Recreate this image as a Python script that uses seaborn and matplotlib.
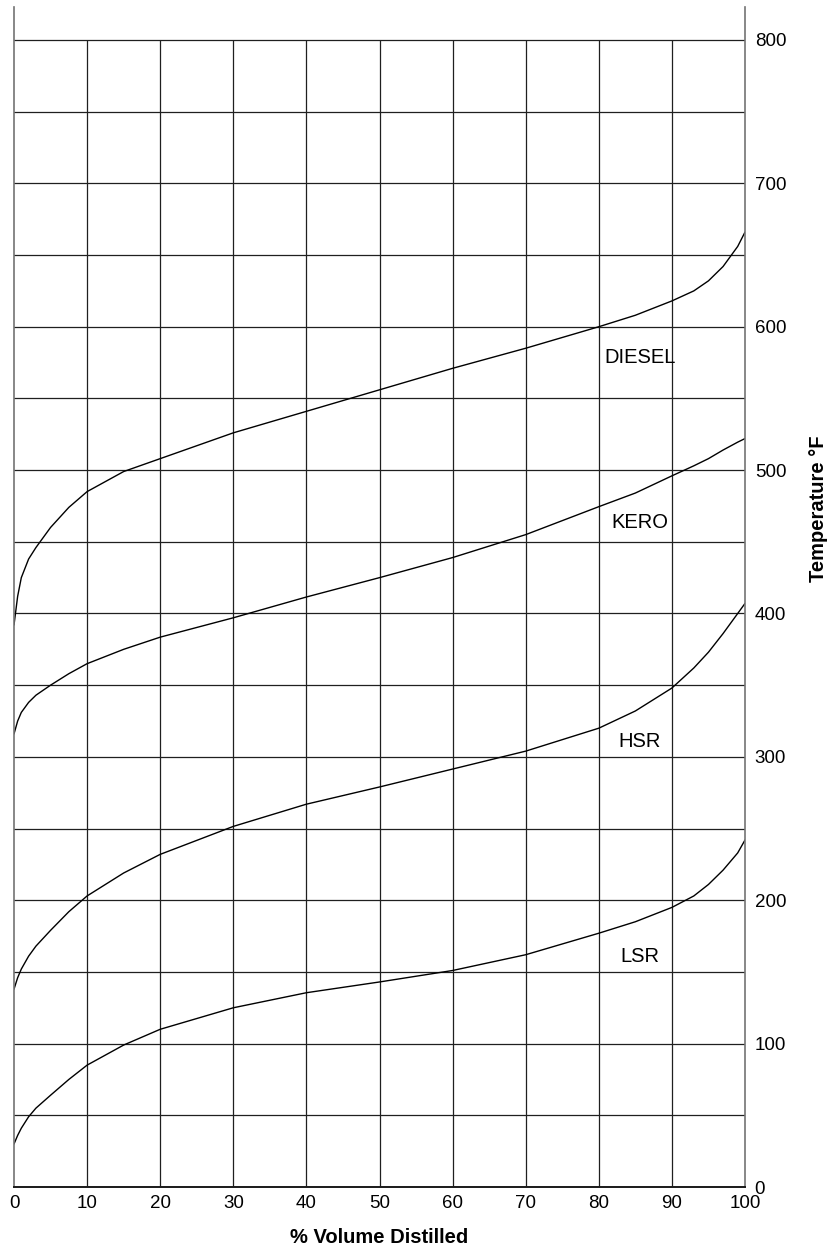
import numpy as np
import pandas as pd
import matplotlib
matplotlib.use('Agg')
import matplotlib.pyplot as plt
import seaborn as sns

# ── data ──────────────────────────────────────────────────────────────────────
pct_distilled = [0, 0.5, 1, 2, 3, 5, 7.5, 10, 15, 20, 30, 40, 50, 60, 70,
                 80, 85, 90, 93, 95, 97, 99, 100]

diesel = [392, 412, 425, 438, 446, 460, 474, 485, 499, 508, 526, 541, 556,
          571, 585, 600, 608, 618, 625, 632, 642, 656, 666]
kero = [316, 325, 331, 338, 343, 350, 358, 365, 375, 383.5, 397, 411.5, 425,
        439, 455, 474.5, 484, 496, 503, 508, 514, 519.5, 522]
hsr = [138, 146, 152, 161, 168, 179, 192, 203, 219, 232, 251.5, 267, 279,
       291.5, 304, 320, 332, 348, 362, 373, 386, 400, 407]
lsr = [30, 36, 41, 49, 55, 64, 75, 85, 99, 110, 125, 135.5, 143, 151, 162,
       177, 185, 195, 203, 211, 221, 233, 242]

series_names = ['DIESEL', 'KERO', 'HSR', 'LSR']
series_values = [diesel, kero, hsr, lsr]
label_y = [574.5, 459.5, 307, 157]   # baseline of the in-plot labels
label_x = 85.6

x_ticks = list(range(0, 101, 10))
y_ticks = list(range(0, 801, 100))
y_top_grid = 800

# ── plot ──────────────────────────────────────────────────────────────────────
sns.set_theme(style='white')
plt.rcParams['font.family'] = ['Liberation Sans', 'DejaVu Sans']

fig = plt.figure(figsize=(8.3, 12.5), dpi=100)
ax = fig.add_axes([14 / 830, 63 / 1250, 731 / 830, 1180 / 1250])

for name, vals in zip(series_names, series_values):
    sns.lineplot(x=pct_distilled, y=vals, ax=ax, color='black', lw=1.0,
                 sort=False, estimator=None)

for name, yv in zip(series_names, label_y):
    ax.text(label_x, yv, name, ha='center', va='baseline', fontsize=14.5,
            color='black')

ax.set_xlim(0, 100)
ax.set_ylim(0, 823)
ax.set_xticks(x_ticks)
ax.set_yticks(y_ticks)
ax.set_yticks(np.arange(50, 800, 100), minor=True)

# horizontal grid across; vertical grid stops at the 800 line
ax.grid(True, which='both', axis='y', color='0.12', lw=0.9)
ax.vlines(x_ticks[1:-1], 0, y_top_grid, color='0.12', lw=0.9, zorder=0.5)
ax.set_axisbelow(True)

ax.yaxis.tick_right()
ax.yaxis.set_label_position('right')
ax.tick_params(axis='both', which='both', length=0, labelsize=13.5,
               colors='black')
ax.tick_params(axis='x', pad=6)
ax.tick_params(axis='y', pad=7)

ax.set_xlabel('% Volume Distilled', fontsize=14.5, fontweight='bold',
              labelpad=11, color='black')
ax.set_ylabel('Temperature °F', fontsize=14.5, fontweight='bold',
              color='black')
ax.yaxis.set_label_coords(1.087, 0.575)

ax.spines['top'].set_visible(False)
for side in ['left', 'right']:
    ax.spines[side].set_color('0.45')
    ax.spines[side].set_linewidth(1.2)
ax.spines['bottom'].set_color('0.1')
ax.spines['bottom'].set_linewidth(1.4)

fig.savefig('out.png', dpi=100)
